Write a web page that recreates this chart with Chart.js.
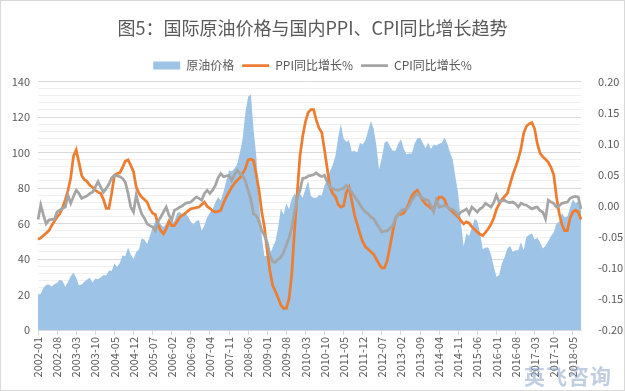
<!DOCTYPE html>
<html>
<head>
<meta charset="utf-8">
<script src="https://cdn.jsdelivr.net/npm/chart.js@4.4.0/dist/chart.umd.min.js"></script>
<style>
    body { margin: 0; background: #fff; }
    #wrap { position: relative; width: 625px; height: 391px; }
    #mark { position: absolute; left: 524px; top: 360px; font: bold 21px "Noto Sans CJK SC", sans-serif;
            color: rgba(140, 165, 200, 0.55); letter-spacing: 1px; }
</style>
</head>
<body>
<div id="wrap">
    <canvas id="chart"></canvas>
    <div id="mark">英飞咨询</div>
</div>
<script>
// months 2002-01 .. 2018-08
const months = [];
for (let y = 2002; y <= 2018; y++) {
    for (let m = 1; m <= 12; m++) {
        if (y === 2018 && m > 8) break;
        months.push(y + "-" + (m < 10 ? "0" + m : m));
    }
}

// 原油价格 (left axis)
const oilPrice = [
    19.7, 20.4, 23.7, 25.5, 25.7, 24.5, 25.8, 26.6, 28.3, 27.6, 24.3, 27.0,
    30.5, 32.3, 29.5, 25.2, 25.7, 27.2, 28.4, 29.4, 26.8, 29.0, 28.6, 29.8,
    31.0, 30.7, 33.5, 33.3, 37.5, 35.5, 37.9, 42.0, 41.6, 46.5, 42.5, 40.0,
    44.0, 45.5, 51.5, 51.0, 48.5, 53.0, 57.5, 61.5, 62.5, 59.5, 58.0, 60.0,
    63.0, 60.5, 61.5, 66.0, 66.5, 65.0, 66.0, 64.0, 61.0, 59.5, 61.5, 62.0,
    56.0, 59.0, 63.5, 66.0, 68.0, 72.0, 75.0, 73.0, 78.0, 84.0, 90.0, 89.5,
    91.0, 93.5, 100.0, 108.0, 122.5, 131.5, 132.8, 113.0, 98.0, 72.0, 52.5, 41.5,
    42.0, 42.5, 46.5, 50.0, 57.5, 68.5, 65.0, 71.5, 68.0, 74.0, 77.0, 75.0,
    77.0, 74.5, 79.5, 84.0, 75.5, 74.5, 74.5, 76.0, 76.0, 81.5, 84.5, 89.5,
    93.0, 98.0, 108.5, 116.3, 108.0, 106.0, 107.0, 100.5, 101.0, 100.0, 105.5, 104.5,
    107.0, 112.5, 117.8, 113.5, 104.0, 90.5, 97.0, 105.5, 106.5, 103.5, 101.0, 101.0,
    105.0, 107.5, 102.5, 99.0, 99.5, 99.5, 105.0, 108.0, 108.5, 105.5, 102.5, 105.5,
    102.0, 104.5, 104.0, 105.0, 105.5, 108.5, 105.0, 100.0, 96.0, 86.0, 77.0, 60.5,
    47.0, 54.5, 53.0, 57.5, 62.5, 61.5, 54.5, 45.5, 46.5, 46.5, 42.5, 36.0,
    30.0, 31.0, 37.5, 41.0, 46.0, 47.5, 44.0, 45.0, 45.0, 49.5, 45.0, 52.5,
    53.5, 54.5, 51.0, 52.0, 49.5, 46.0, 47.5, 50.0, 53.0, 55.0, 60.0, 61.0,
    66.0, 63.5, 64.0, 69.0, 73.5, 71.5, 72.5, 71.0
];

// PPI同比增长% (right axis)
const ppiGrowth = [
    -0.054, -0.052, -0.048, -0.044, -0.040, -0.032, -0.025, -0.018, -0.013, -0.003, 0.010, 0.025,
    0.045, 0.080, 0.090, 0.070, 0.049, 0.042, 0.039, 0.033, 0.030, 0.025, 0.022, 0.020,
    0.010, -0.004, -0.004, 0.020, 0.049, 0.052, 0.053, 0.062, 0.072, 0.074, 0.065, 0.055,
    0.030, 0.020, 0.014, 0.010, 0.006, -0.005, -0.012, -0.014, -0.030, -0.040, -0.045, -0.037,
    -0.025, -0.032, -0.032, -0.025, -0.018, -0.015, -0.012, -0.008, -0.005, -0.004, -0.003, -0.002,
    0.002, 0.006, -0.001, -0.004, -0.008, -0.010, -0.009, -0.007, 0.005, 0.014, 0.022, 0.030,
    0.036, 0.041, 0.045, 0.052, 0.060, 0.074, 0.075, 0.073, 0.050, 0.025, -0.010, -0.035,
    -0.072, -0.105, -0.128, -0.138, -0.148, -0.160, -0.165, -0.165, -0.150, -0.110, -0.040, 0.020,
    0.080, 0.112, 0.135, 0.150, 0.155, 0.155, 0.138, 0.125, 0.118, 0.090, 0.060, 0.030,
    0.020, 0.015, 0.002, -0.002, 0.000, 0.022, 0.030, 0.008, -0.015, -0.030, -0.045, -0.058,
    -0.066, -0.070, -0.074, -0.078, -0.086, -0.094, -0.100, -0.100, -0.088, -0.065, -0.042, -0.020,
    -0.014, -0.014, -0.012, -0.005, 0.005, 0.016, 0.022, 0.025, 0.017, 0.009, 0.003, 0.000,
    -0.004, -0.005, 0.006, 0.014, 0.014, 0.010, -0.002, -0.006, -0.010, -0.014, -0.018, -0.024,
    -0.029, -0.026, -0.028, -0.034, -0.038, -0.042, -0.046, -0.048, -0.043, -0.037, -0.030, -0.020,
    -0.006, 0.003, 0.010, 0.015, 0.020, 0.035, 0.050, 0.062, 0.075, 0.092, 0.117, 0.128,
    0.132, 0.134, 0.124, 0.100, 0.085, 0.079, 0.075, 0.070, 0.062, 0.050, 0.015, -0.012,
    -0.030, -0.040, -0.040, -0.020, -0.010, -0.007, -0.010, -0.022
];

// CPI同比增长% (right axis)
const cpiGrowth = [
    -0.022, 0.001, -0.015, -0.029, -0.023, -0.022, -0.022, -0.010, -0.007, -0.004, -0.002, 0.017,
    0.004, 0.015, 0.025, 0.020, 0.012, 0.014, 0.016, 0.020, 0.022, 0.030, 0.039, 0.030,
    0.022, 0.028, 0.035, 0.045, 0.049, 0.048, 0.047, 0.044, 0.038, 0.020, -0.002, -0.010,
    0.017, 0.000, -0.013, -0.020, -0.029, -0.032, -0.034, -0.040, -0.025, -0.018, -0.010, -0.002,
    -0.015, -0.023, -0.007, -0.005, -0.002, 0.000, 0.004, 0.005, 0.006, 0.010, 0.014, 0.012,
    0.009, 0.020, 0.025, 0.020, 0.025, 0.033, 0.045, 0.052, 0.047, 0.048, 0.049, 0.041,
    0.050, 0.057, 0.052, 0.049, 0.040, 0.025, 0.010, -0.013, -0.016, -0.025, -0.040, -0.048,
    -0.059, -0.080, -0.090, -0.091, -0.086, -0.083, -0.075, -0.063, -0.052, -0.035, -0.010, 0.012,
    0.025, 0.044, 0.045, 0.048, 0.049, 0.050, 0.053, 0.049, 0.047, 0.049, 0.038, 0.030,
    0.028, 0.026, 0.025, 0.027, 0.028, 0.033, 0.028, 0.022, 0.015, 0.009, 0.002, -0.005,
    -0.010, -0.013, -0.018, -0.021, -0.028, -0.035, -0.042, -0.041, -0.040, -0.036, -0.032, -0.020,
    -0.015, -0.008, -0.006, -0.005, 0.000, 0.009, 0.015, 0.020, 0.016, 0.012, 0.010, 0.009,
    0.000, -0.010, 0.009, -0.002, -0.001, 0.001, -0.002, -0.005, -0.006, -0.010, -0.015, -0.010,
    -0.008, -0.005, -0.013, -0.002, -0.006, -0.010, -0.005, -0.002, 0.004, 0.001, -0.002, 0.005,
    0.017, 0.006, 0.008, 0.009, 0.006, 0.005, 0.006, 0.003, -0.002, 0.004, 0.002, 0.001,
    -0.002, -0.005, -0.003, -0.002, -0.008, -0.010, -0.021, 0.009, 0.006, 0.004, -0.002, 0.000,
    0.004, 0.005, 0.006, 0.012, 0.014, 0.015, 0.014, -0.005
];

const fontFamily = '"Noto Sans CJK SC", "Noto Sans", sans-serif';
const textColor = "#595959";

// thin frame round the whole chart
const framePlugin = {
    id: "frame",
    afterDraw(chart) {
        const ctx = chart.ctx;
        ctx.save();
        ctx.strokeStyle = "#d9d9d9";
        ctx.lineWidth = 1;
        ctx.strokeRect(0.5, 0.5, chart.width - 1, chart.height - 1);
        ctx.restore();
    }
};

new Chart(document.getElementById("chart"), {
    type: "line",
    data: {
        labels: months,
        datasets: [
            {
                label: "原油价格",
                data: oilPrice,
                yAxisID: "y",
                fill: "origin",
                backgroundColor: "#9DC3E6",
                borderWidth: 0,
                pointRadius: 0,
                pointStyle: "rect",
                order: 2
            },
            {
                label: "PPI同比增长%",
                data: ppiGrowth,
                yAxisID: "y1",
                borderColor: "#ED7D31",
                backgroundColor: "#ED7D31",
                borderWidth: 2.75,
                pointRadius: 0,
                pointStyle: "line",
                fill: false,
                order: 1
            },
            {
                label: "CPI同比增长%",
                data: cpiGrowth,
                yAxisID: "y1",
                borderColor: "#A5A5A5",
                backgroundColor: "#A5A5A5",
                borderWidth: 2.75,
                pointRadius: 0,
                pointStyle: "line",
                fill: false,
                order: 0
            }
        ]
    },
    options: {
        responsive: true,
        maintainAspectRatio: false,
        animation: false,
        layout: { padding: 0 },
        plugins: {
            title: {
                display: true,
                text: "图5：国际原油价格与国内PPI、CPI同比增长趋势",
                color: textColor,
                font: { family: fontFamily, size: 18, weight: "normal" },
                padding: { top: 17, bottom: 13 }
            },
            legend: {
                position: "top",
                labels: {
                    usePointStyle: true,
                    pointStyleWidth: 27,
                    boxHeight: 8,
                    padding: 8,
                    color: textColor,
                    font: { family: fontFamily, size: 12 },
                    sort: (a, b) => a.datasetIndex - b.datasetIndex
                }
            },
            tooltip: { enabled: false }
        },
        scales: {
            x: {
                grid: {
                    display: true,
                    drawOnChartArea: false,
                    drawTicks: true,
                    tickLength: 5,
                    color: "#D9D9D9"
                },
                border: { display: true, color: "#D9D9D9" },
                ticks: {
                    autoSkip: false,
                    minRotation: 90,
                    maxRotation: 90,
                    padding: 2,
                    color: textColor,
                    font: { family: fontFamily, size: 11 },
                    callback: function (val, idx) {
                        return idx % 7 === 0 ? months[idx] : null;
                    }
                },
                afterFit: function (scale) { scale.height = 61; }
            },
            y: {
                position: "left",
                min: 0,
                max: 140,
                grid: {
                    drawTicks: false,
                    color: ctx => (ctx.tick && ctx.tick.value % 20 === 0) ? "#D9D9D9" : "#F0F0F0"
                },
                border: { display: false },
                ticks: {
                    stepSize: 4,
                    autoSkip: false,
                    maxTicksLimit: 60,
                    padding: 8,
                    color: textColor,
                    font: { family: fontFamily, size: 11 },
                    callback: v => v % 20 === 0 ? v : ""
                },
                afterFit: function (scale) { scale.width = 38; }
            },
            y1: {
                position: "right",
                min: -0.2,
                max: 0.2,
                grid: { display: false },
                border: { display: false },
                ticks: {
                    stepSize: 0.05,
                    padding: 9,
                    color: textColor,
                    font: { family: fontFamily, size: 11 },
                    callback: v => v.toFixed(2)
                },
                afterFit: function (scale) { scale.width = 44; }
            }
        }
    },
    plugins: [framePlugin]
});
</script>
</body>
</html>
